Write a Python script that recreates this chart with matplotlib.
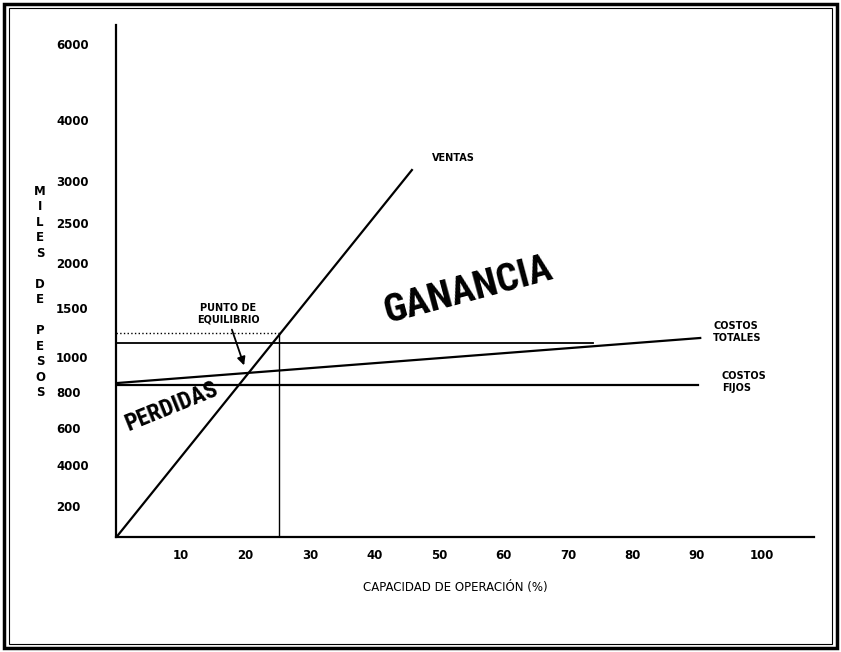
import matplotlib.pyplot as plt
import numpy as np
from matplotlib.patches import Rectangle
from matplotlib import font_manager

# datos (punto de equilibrio)
cap_ticks = [10, 20, 30, 40, 50, 60, 70, 80, 90, 100]
y_vals = [200, 400, 600, 800, 1000, 1500, 2000, 2500, 3000, 4000, 6000]
y_labels = ["200", "4000", "600", "800", "1000", "1500", "2000", "2500", "3000", "4000", "6000"]

ventas_x = [0, 45.8]
ventas_y = [0, 3180]
fijos_x = [0, 90.2]
fijos_y = [840, 840]
totales_x = [0, 90.5]
totales_y = [851, 1194]
linea_x = [0, 73.9]
linea_y = [1143, 1143]
equilibrio_x = 25.2
equilibrio_y = 1240

# el eje vertical del original no es lineal: posicion (px) de cada etiqueta
y_pos = [31, 72, 109, 145, 180, 229, 274, 314, 356, 417, 493]
ref_v = [0] + y_vals + [6500]
ref_p = [0] + y_pos + [512]


def fwd(v):
    return np.interp(v, ref_v, ref_p)


def inv(p):
    return np.interp(p, ref_p, ref_v)


# fuente estrecha para GANANCIA / PERDIDAS si existe
names = {f.name for f in font_manager.fontManager.ttflist}
cond = None
for n in ["Liberation Sans Narrow", "Roboto Condensed", "Open Sans Condensed",
          "Noto Sans Condensed", "DejaVu Sans Condensed"]:
    if n in names:
        cond = n
        break
if cond:
    big_font, size_g, size_p = cond, 28, 17
else:
    big_font, size_g, size_p = "DejaVu Sans", 20.5, 12.5

W, H = 841, 652
fig = plt.figure(figsize=(W / 100, H / 100), dpi=100)

x0, x1 = 116.5, 814
y_ax, y_top = 537, 25
ax = fig.add_axes([x0 / W, (H - y_ax) / H, (x1 - x0) / W, (y_ax - y_top) / H])
ax.set_yscale("function", functions=(fwd, inv))
ax.set_xlim(0, (x1 - x0) / 6.45)
ax.set_ylim(0, 6500)

ax.plot(ventas_x, ventas_y, color="black", lw=1.6)
ax.plot(fijos_x, fijos_y, color="black", lw=1.6)
ax.plot(totales_x, totales_y, color="black", lw=1.6)
ax.plot(linea_x, linea_y, color="black", lw=1.3)
ax.plot([0, equilibrio_x], [equilibrio_y, equilibrio_y], color="black", lw=1, ls=":")
ax.plot([equilibrio_x, equilibrio_x], [0, equilibrio_y], color="black", lw=1)

for s in ["top", "right"]:
    ax.spines[s].set_visible(False)
for s in ["left", "bottom"]:
    ax.spines[s].set_linewidth(1.6)

ax.set_xticks(cap_ticks)
ax.set_xticklabels([str(c) for c in cap_ticks], fontsize=8.5, fontweight="bold")
ax.set_yticks(y_vals)
ax.set_yticklabels(y_labels, fontsize=8.5, fontweight="bold")
ax.yaxis.set_minor_locator(plt.NullLocator())
ax.tick_params(axis="both", length=0)
ax.tick_params(axis="x", pad=8.5)
ax.tick_params(axis="y", pad=43.5)
for lbl in ax.get_yticklabels():
    lbl.set_ha("left")


def px(x, y):
    return x / W, 1 - y / H


fig.text(*px(455, 588), "CAPACIDAD DE OPERACIÓN (%)", ha="center", va="center", fontsize=8.5)
fig.text(*px(40, 292), "M\nI\nL\nE\nS\n\nD\nE\n\nP\nE\nS\nO\nS",
         ha="center", va="center", fontsize=8.5, fontweight="bold", linespacing=1.25)

fig.text(*px(432, 158), "VENTAS", ha="left", va="center", fontsize=7, fontweight="bold")
fig.text(*px(713, 332), "COSTOS\nTOTALES", ha="left", va="center", fontsize=7,
         fontweight="bold", linespacing=1.25)
fig.text(*px(722, 382), "COSTOS\nFIJOS", ha="left", va="center", fontsize=7,
         fontweight="bold", linespacing=1.25)
fig.text(*px(228, 314), "PUNTO DE\nEQUILIBRIO", ha="center", va="center", fontsize=7,
         fontweight="bold", linespacing=1.25)

fig.text(*px(468, 290), "GANANCIA", ha="center", va="center", rotation=15,
         rotation_mode="anchor", fontsize=size_g, fontweight="bold", family=big_font)
fig.text(*px(172, 407), "PERDIDAS", ha="center", va="center", rotation=22,
         rotation_mode="anchor", fontsize=size_p, fontweight="bold", family=big_font)

ax.annotate("", xy=(245, H - 368), xycoords="figure pixels",
            xytext=(231, H - 327), textcoords="figure pixels",
            arrowprops=dict(arrowstyle="-|>", color="black", lw=1.3, mutation_scale=12))

# marco doble del escaneo
fig.add_artist(Rectangle((4 / W, 4 / H), 833 / W, 644 / H, transform=fig.transFigure,
                         fill=False, lw=2.5, ec="black"))
fig.add_artist(Rectangle((9 / W, 8 / H), 823 / W, 636 / H, transform=fig.transFigure,
                         fill=False, lw=0.8, ec="black"))

fig.savefig("out.png", dpi=100)
